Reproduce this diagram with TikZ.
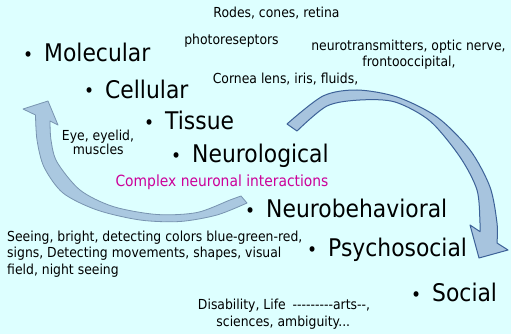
\documentclass[tikz,border=0pt]{standalone}
\usepackage{fontspec}
\setmainfont{DejaVu Sans}[FakeStretch=0.9, Ligatures=TeXOff]
\definecolor{bgcol}{RGB}{221,255,255}
\definecolor{magtext}{RGB}{204,0,153}
\definecolor{rfill}{RGB}{167,196,222}
\definecolor{rline}{RGB}{61,98,152}
\definecolor{lfill}{RGB}{170,200,224}
\definecolor{lline}{RGB}{120,148,176}
\newcommand\bulmark{\llap{\raisebox{0.5pt}{\fontsize{19}{19}\selectfont •}\hspace{11pt}}}
\tikzset{
  smalltext/.style={font=\fontsize{13.8}{17}\selectfont, inner sep=0pt, anchor=base},
  smallleft/.style={smalltext, anchor=base west},
  bigtext/.style={font=\fontsize{24.3}{28}\selectfont, inner sep=0pt, anchor=base west},
  magentatext/.style={font=\fontsize{15.4}{18}\selectfont, inner sep=0pt, anchor=base, text=magtext},
  rightarrow/.style={fill=rfill, draw=rline, line width=1pt, line join=round},
  leftarrow/.style={fill=lfill, draw=lline, line width=0.8pt, line join=round}
}
\begin{document}
\begin{tikzpicture}[x=1pt,y=-1pt]
\fill[bgcol] (0,0) rectangle (511,334);
\useasboundingbox (0,0) rectangle (511,334);

% left curved arrow
\filldraw[leftarrow] plot[smooth] coordinates {(247,203) (217,215) (180,221.5) (140,220) (97,210) (63,193) (44,167) (37,140) (35.5,115)}
  -- (23,109) -- (48,101) -- (58,125)
  -- plot[smooth] coordinates {(50,121) (51,140) (57,162) (80,190) (113,206.5) (157,214.5) (197,212.5) (230,200) (241,196)} -- cycle;

% right curved arrow
\filldraw[rightarrow] plot[smooth] coordinates {(287,124) (323,96) (357,90) (397,97) (437,117) (470,150) (490,187) (497,223) (497,243)}
  -- (508,250) -- (479,258) -- (470,225)
  -- plot[smooth] coordinates {(480,231.6) (480,223) (477,190) (460,157) (430,121) (395,102) (360,100) (327,106) (297,131)} -- cycle;

% small annotations
\node[smalltext] (rodes) at (276.5,17.5) {Rodes, cones, retina};
\node[smalltext] (photo) at (231.5,45) {photoreseptors};
\node[smalltext] (neuro1) at (408.5,50.7) {neurotransmitters, optic nerve,};
\node[smalltext] (neuro2) at (409,67) {frontooccipital,};
\node[smalltext] (cornea) at (285.5,83.5) {Cornea lens, iris, fluids,};
\node[smalltext] (eye1) at (98,140) {Eye, eyelid,};
\node[smalltext] (eye2) at (98.3,154.5) {muscles};
\node[magentatext] (complex) at (222,186.7) {Complex neuronal interactions};
\node[smallleft] (see1) at (7,241) {Seeing, bright, detecting colors blue-green-red,};
\node[smallleft] (see2) at (7,257.7) {signs, Detecting movements, shapes, visual};
\node[smallleft] (see3) at (7,274.3) {field, night seeing};
\node[smalltext] (dis1) at (284,309) {Disability, Life\hspace{0.5em}---------arts--,};
\node[smalltext] (dis2) at (283.3,326) {sciences, ambiguity...};

% levels
\node[bigtext] (molecular) at (44,62) {\bulmark Molecular};
\node[bigtext] (cellular) at (105,98.3) {\bulmark Cellular};
\node[bigtext] (tissue) at (165,130) {\bulmark Tissue};
\node[bigtext] (neurological) at (192,162.5) {\bulmark Neurological};
\node[bigtext] (neurobehavioral) at (266,217.7) {\bulmark Neurobehavioral};
\node[bigtext] (psychosocial) at (328,256.7) {\bulmark Psychosocial};
\node[bigtext] (social) at (432,301.7) {\bulmark Social};
\end{tikzpicture}
\end{document}
